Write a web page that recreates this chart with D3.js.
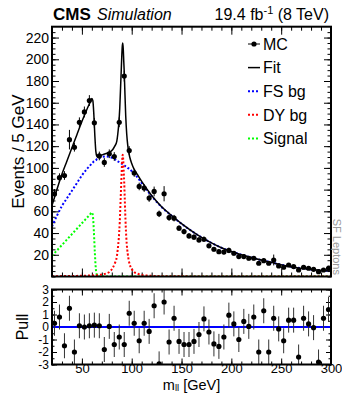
<!DOCTYPE html>
<html>
<head>
<meta charset="utf-8">
<script src="https://cdn.jsdelivr.net/npm/d3@7"></script>
<style>
body { margin: 0; background: #fff; }
svg text { font-family: "Liberation Sans", Arial, Helvetica, sans-serif; fill: #000; }
</style>
</head>
<body>
<script>
// MC points, one per 5 GeV bin
var binCenters = [
  22.5, 27.5, 32.5, 37.5, 42.5, 47.5, 52.5, 57.5,
  62.5, 67.5, 72.5, 77.5, 82.5, 87.5, 92.5, 97.5,
  102.5, 107.5, 112.5, 117.5, 122.5, 127.5, 132.5, 137.5,
  142.5, 147.5, 152.5, 157.5, 162.5, 167.5, 172.5, 177.5,
  182.5, 187.5, 192.5, 197.5, 202.5, 207.5, 212.5, 217.5,
  222.5, 227.5, 232.5, 237.5, 242.5, 247.5, 252.5, 257.5,
  262.5, 267.5, 272.5, 277.5, 282.5, 287.5, 292.5, 297.5
];
var mcValues = [
  76, 91, 93, 126, 119, 142, 151.5, 162,
  141.5, 111, 105, 113, 110.5, 142, 184.5, 116,
  95.3, 82.9, 81.4, 72.2, 78.3, 57.7, 76.2, 54.3,
  53.7, 44.5, 41.4, 37.4, 36.2, 33.7, 34.3, 28.2,
  25.1, 22.9, 22.5, 24, 21.4, 18.3, 18.3, 16.8,
  16.8, 12.2, 14.6, 12.2, 15.2, 9.7, 8.5, 10.6,
  9.1, 6.0, 8.5, 7.6, 6.6, 4.4, 6.0, 7.6
];
var mcErrors = [
  4.5, 4, 4, 9, 4, 4.5, 5, 5,
  4.5, 4, 4, 4, 4, 4.5, 5, 4,
  3.5, 3.5, 3.5, 3.5, 4.5, 3, 7, 3,
  3, 2.5, 2.5, 2.5, 2.5, 2.5, 2.5, 2,
  2, 2, 2, 2.5, 2, 2, 2, 2,
  2, 1.5, 2, 1.5, 5, 1.5, 1.5, 1.5,
  1.5, 1.5, 1.5, 1.5, 1.5, 1.5, 1.5, 2
];
var pullValues = [
  0.3, 0.8, -1.5, 1.5, -2.0, 0.1, 0.0, 0.1,
  0.15, 0.1, -1.8, 0.05, -1.4, -0.8, -1.4, 1.1,
  0.3, -1.1, 0.3, -0.35, 1.7, -2.95, 2.0, -1.2,
  0.7, -1.15, -1.4, -1.4, -1.15, -0.6, 0.65, -0.4,
  -1.35, -1.55, -0.8, 0.95, 0.25, -1.0, 0.45, 0.05,
  0.8, -2.0, 1.3, -2.0, 0.7, -0.15, -1.1, 0.55,
  0.55, -2.4, 0.7, 0.25, -0.05, -2.8, 0.7, 1.4
];

// fit components
var curveX = [
  20, 25, 30, 35, 40, 45, 50, 55,
  58, 60, 61, 62, 63, 64, 65, 66,
  68, 71, 75, 78, 81, 83, 85, 86,
  87, 88, 89, 89.5, 90, 90.5, 91, 91.5,
  92, 92.5, 93, 94, 95, 96, 97, 98,
  100, 102, 106, 110, 120, 130, 140, 150,
  160, 170, 180, 190, 200, 220, 240, 260,
  280, 300
];
var fsBg = [
  46, 56, 65, 72, 79, 86, 93, 99,
  102, 104, 105, 106, 106.5, 107, 108, 108.5,
  109.5, 110.2, 110.5, 110, 109, 108, 106.5, 106,
  105.5, 105, 104.5, 104.2, 104, 103.5, 103, 102.7,
  102.5, 102.2, 102, 101.5, 101, 100, 99.5, 99,
  97, 95, 91, 86, 74, 64, 56, 48.5,
  42, 36, 31, 26.5, 23, 17.5, 13, 9,
  6.5, 5
];
var dyBg = [
  0.3, 0.3, 0.35, 0.4, 0.5, 0.55, 0.7, 0.8,
  0.9, 1, 1, 1.05, 1.1, 1.15, 1.2, 1.3,
  1.5, 2, 3, 4.5, 8, 12, 18, 25,
  35, 50, 74, 86, 98, 108, 112, 107,
  96, 86, 72, 46, 30, 21, 15, 11,
  7, 4.5, 2.5, 1.5, 0.6, 0.3, 0.2, 0.15,
  0.1, 0.1, 0.05, 0, 0, 0, 0, 0,
  0, 0
];
var signal = [
  19, 24, 29, 34, 39, 44, 49, 54,
  57, 59, 56, 42, 22, 7, 1.5, 0,
  0, 0, 0, 0, 0, 0, 0, 0,
  0, 0, 0, 0, 0, 0, 0, 0,
  0, 0, 0, 0, 0, 0, 0, 0,
  0, 0, 0, 0, 0, 0, 0, 0,
  0, 0, 0, 0, 0, 0, 0, 0,
  0, 0
];
var fitCurve = [
  65.3, 80.3, 94.4, 106.4, 118.5, 130.6, 142.7, 153.8,
  159.9, 164, 162, 149.1, 129.6, 115.2, 110.7, 109.8,
  111, 112.2, 113.5, 114.5, 117, 120, 124.5, 131,
  140.5, 155, 178.5, 190.2, 202, 211.5, 215, 209.7,
  198.5, 188.2, 174, 147.5, 131, 121, 114.5, 110,
  104, 99.5, 93.5, 87.5, 74.6, 64.3, 56.2, 48.7,
  42.1, 36.1, 31, 26.5, 23, 17.5, 13, 9,
  6.5, 5
];

var yTicks = [20, 40, 60, 80, 100, 120, 140, 160, 180, 200, 220];
var xTicks = [50, 100, 150, 200, 250, 300];
var pullTicks = [-3, -2, -1, 0, 1, 2, 3];
var legendLabels = ['MC', 'Fit', 'FS bg', 'DY bg', 'Signal'];

drawChart();

function drawChart() {
  var w = 342, h = 393;
  var left = 52, right = 331, top = 26.7, bottom = 276.5;
  var pTop = 289.5, pBottom = 364.5;

  var svg = d3.select('body').append('svg')
    .attr('width', w)
    .attr('height', h);

  var x = d3.scaleLinear().domain([20, 300]).range([left, right]);
  var y = d3.scaleLinear().domain([0, 230]).range([bottom, top]);
  var yp = d3.scaleLinear().domain([-3, 3]).range([pBottom, pTop]);

  svg.append('clipPath').attr('id', 'clipMain')
    .append('rect').attr('x', left).attr('y', top)
    .attr('width', right - left).attr('height', bottom - top);
  svg.append('clipPath').attr('id', 'clipPull')
    .append('rect').attr('x', left).attr('y', pTop)
    .attr('width', right - left).attr('height', pBottom - pTop);

  var plain = function(d) { return String(d); };
  var xMinor = d3.range(20, 301, 10);
  var yMinor = d3.range(0, 230, 5);
  var pMinor = d3.range(-3, 3.01, 0.5);

  // fmt == null -> ticks only
  function axis(gen, pos, values, size, fmt, fs) {
    var g = svg.append('g')
      .attr('transform', pos)
      .call(gen.tickValues(values).tickSize(size).tickPadding(3).tickFormat(fmt || plain));
    g.select('.domain').remove();
    g.selectAll('line').attr('stroke', '#000').attr('stroke-width', 1);
    if (!fmt) g.selectAll('text').remove();
    else g.selectAll('text').style('font-size', (fs || 14) + 'px').attr('fill', '#000');
    return g;
  }

  // main pad ticks
  axis(d3.axisLeft(y), 'translate(' + left + ',0)', yTicks, -7, plain);
  axis(d3.axisLeft(y), 'translate(' + left + ',0)', yMinor, -3.5);
  axis(d3.axisRight(y), 'translate(' + right + ',0)', yTicks, -7);
  axis(d3.axisRight(y), 'translate(' + right + ',0)', yMinor, -3.5);
  axis(d3.axisTop(x), 'translate(0,' + top + ')', xTicks, -8);
  axis(d3.axisTop(x), 'translate(0,' + top + ')', xMinor, -4);
  axis(d3.axisBottom(x), 'translate(0,' + bottom + ')', xTicks, -8);
  axis(d3.axisBottom(x), 'translate(0,' + bottom + ')', xMinor, -4);

  // pull pad ticks
  axis(d3.axisLeft(yp), 'translate(' + left + ',0)', pullTicks, -5, plain, 12);
  axis(d3.axisLeft(yp), 'translate(' + left + ',0)', pMinor, -2.5);
  axis(d3.axisRight(yp), 'translate(' + right + ',0)', pullTicks, -5);
  axis(d3.axisRight(yp), 'translate(' + right + ',0)', pMinor, -2.5);
  axis(d3.axisTop(x), 'translate(0,' + pTop + ')', xTicks, -6);
  axis(d3.axisTop(x), 'translate(0,' + pTop + ')', xMinor, -3);
  var xb = axis(d3.axisBottom(x), 'translate(0,' + pBottom + ')', xTicks, -6, plain, 13);
  xb.selectAll('text').attr('y', -0.5);
  axis(d3.axisBottom(x), 'translate(0,' + pBottom + ')', xMinor, -3);

  // curves
  var idx = d3.range(curveX.length);
  function curvePath(vals) {
    return d3.line()
      .x(function(i) { return x(curveX[i]); })
      .y(function(i) { return y(vals[i]); })
      .curve(d3.curveMonotoneX)(idx);
  }
  var plot = svg.append('g').attr('clip-path', 'url(#clipMain)');
  plot.append('path').attr('d', curvePath(fsBg))
    .attr('fill', 'none').attr('stroke', '#0000ff').attr('stroke-width', 2)
    .attr('stroke-dasharray', '2,2');
  plot.append('path').attr('d', curvePath(signal))
    .attr('fill', 'none').attr('stroke', '#00ff00').attr('stroke-width', 2)
    .attr('stroke-dasharray', '2,2');
  plot.append('path').attr('d', curvePath(dyBg))
    .attr('fill', 'none').attr('stroke', '#ff0000').attr('stroke-width', 2)
    .attr('stroke-dasharray', '2,2');
  plot.append('path').attr('d', curvePath(fitCurve))
    .attr('fill', 'none').attr('stroke', '#000').attr('stroke-width', 1.5);

  // MC points
  plot.selectAll('line.err')
    .data(binCenters)
    .enter()
    .append('line')
    .attr('class', 'err')
    .attr('x1', function(d) { return x(d); })
    .attr('x2', function(d) { return x(d); })
    .attr('y1', function(d, i) { return y(mcValues[i] - mcErrors[i]); })
    .attr('y2', function(d, i) { return y(mcValues[i] + mcErrors[i]); })
    .attr('stroke', '#000').attr('stroke-width', 1);
  plot.selectAll('circle')
    .data(binCenters)
    .enter()
    .append('circle')
    .attr('cx', function(d) { return x(d); })
    .attr('cy', function(d, i) { return y(mcValues[i]); })
    .attr('r', 2.6)
    .attr('fill', '#000');

  // pull pad
  var pull = svg.append('g').attr('clip-path', 'url(#clipPull)');
  pull.append('line')
    .attr('x1', left).attr('x2', right)
    .attr('y1', yp(0)).attr('y2', yp(0))
    .attr('stroke', '#0000ff').attr('stroke-width', 2);
  pull.selectAll('line.err')
    .data(binCenters)
    .enter()
    .append('line')
    .attr('class', 'err')
    .attr('x1', function(d) { return x(d); })
    .attr('x2', function(d) { return x(d); })
    .attr('y1', function(d, i) { return yp(pullValues[i] - 1); })
    .attr('y2', function(d, i) { return yp(pullValues[i] + 1); })
    .attr('stroke', '#333').attr('stroke-width', 1);
  pull.selectAll('circle')
    .data(binCenters)
    .enter()
    .append('circle')
    .attr('cx', function(d) { return x(d); })
    .attr('cy', function(d, i) { return yp(pullValues[i]); })
    .attr('r', 2.6)
    .attr('fill', '#000');

  // frames
  svg.append('rect').attr('x', left).attr('y', top)
    .attr('width', right - left).attr('height', bottom - top)
    .attr('fill', 'none').attr('stroke', '#000').attr('stroke-width', 2);
  svg.append('rect').attr('x', left).attr('y', pTop)
    .attr('width', right - left).attr('height', pBottom - pTop)
    .attr('fill', 'none').attr('stroke', '#000').attr('stroke-width', 2);

  // legend
  var styles = [
    { color: '#000', dash: null, width: 1, dot: true },
    { color: '#000', dash: null, width: 1.5, dot: false },
    { color: '#0000ff', dash: '2,2', width: 2, dot: false },
    { color: '#ff0000', dash: '2,2', width: 2, dot: false },
    { color: '#00ff00', dash: '2,2', width: 2, dot: false }
  ];
  var leg = svg.append('g');
  legendLabels.forEach(function(lab, i) {
    var ly = 44 + i * 23.6;
    var s = styles[i];
    leg.append('line').attr('x1', 248).attr('x2', 260).attr('y1', ly).attr('y2', ly)
      .attr('stroke', s.color).attr('stroke-width', s.width)
      .attr('stroke-dasharray', s.dash);
    if (s.dot) {
      leg.append('circle').attr('cx', 254).attr('cy', ly).attr('r', 2.6).attr('fill', '#000');
    }
    leg.append('text').attr('x', 263).attr('y', ly).attr('dy', '0.36em')
      .style('font-size', '16px').text(lab);
  });

  // titles
  svg.append('text').attr('x', 53).attr('y', 20)
    .style('font-size', '17px').style('font-weight', 'bold').text('CMS');
  svg.append('text').attr('x', 97).attr('y', 20)
    .style('font-size', '16px').style('font-style', 'italic').text('Simulation');
  var lumi = svg.append('text').attr('x', 329).attr('y', 20)
    .attr('text-anchor', 'end').style('font-size', '16px');
  lumi.append('tspan').text('19.4 fb');
  lumi.append('tspan').attr('dy', -6).style('font-size', '11px').text('-1');
  lumi.append('tspan').attr('dy', 6).text(' (8 TeV)');

  svg.append('text')
    .attr('transform', 'translate(24,' + ((top + bottom) / 2) + ') rotate(-90)')
    .attr('text-anchor', 'middle').style('font-size', '17px').text('Events / 5 GeV');
  svg.append('text')
    .attr('transform', 'translate(28,' + ((pTop + pBottom) / 2) + ') rotate(-90)')
    .attr('text-anchor', 'middle').style('font-size', '16px').text('Pull');

  var xt = svg.append('text').attr('x', (left + right) / 2).attr('y', 389.5)
    .attr('text-anchor', 'middle').style('font-size', '14.5px');
  xt.append('tspan').text('m');
  xt.append('tspan').attr('dy', 1.5).style('font-size', '9.5px').text('ll');
  xt.append('tspan').attr('dy', -1.5).text(' [GeV]');

  svg.append('text')
    .attr('transform', 'translate(333,275) rotate(90)')
    .attr('text-anchor', 'end').style('font-size', '11px')
    .style('fill', '#999').text('SF Leptons');
}
</script>
</body>
</html>
